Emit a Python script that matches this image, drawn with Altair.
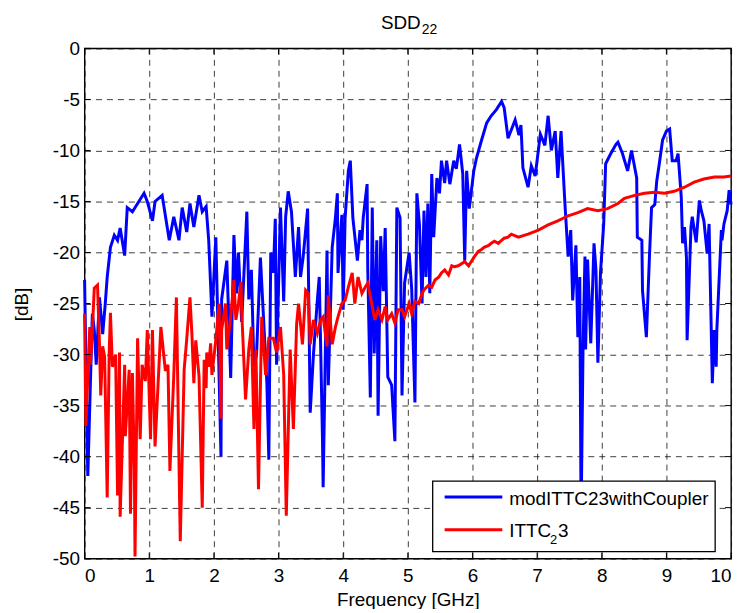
import altair as alt
import pandas as pd

# ---- data ----
BLUE_F = [0.00,0.05,0.12,0.15,0.18,0.23,0.28,0.32,0.35,0.40,
          0.46,0.51,0.55,0.62,0.66,0.74,0.82,0.92,0.97,1.05,
          1.09,1.20,1.31,1.38,1.46,1.51,1.58,1.63,1.69,1.77,
          1.82,1.88,1.92,1.97,2.03,2.11,2.12,2.20,2.26,2.31,
          2.35,2.38,2.43,2.51,2.54,2.58,2.62,2.66,2.72,2.77,
          2.82,2.85,2.88,2.92,2.95,2.97,3.03,3.08,3.11,3.15,
          3.20,3.26,3.31,3.34,3.38,3.45,3.49,3.54,3.60,3.63,
          3.68,3.69,3.75,3.77,3.83,3.88,3.91,3.92,3.98,4.00,
          4.03,4.08,4.11,4.15,4.22,4.26,4.29,4.31,4.37,4.38,
          4.42,4.45,4.48,4.52,4.54,4.58,4.62,4.65,4.69,4.75,
          4.80,4.83,4.88,4.91,4.95,5.02,5.06,5.11,5.14,5.18,
          5.22,5.25,5.28,5.31,5.34,5.37,5.40,5.45,5.49,5.52,
          5.57,5.60,5.65,5.71,5.75,5.80,5.85,5.88,5.91,5.95,
          6.02,6.06,6.14,6.22,6.29,6.37,6.45,6.49,6.55,6.60,
          6.66,6.72,6.75,6.78,6.86,6.91,6.97,7.05,7.12,7.17,
          7.22,7.28,7.32,7.37,7.43,7.48,7.52,7.55,7.60,7.63,
          7.66,7.68,7.71,7.74,7.75,7.78,7.83,7.88,7.91,7.94,
          7.98,8.03,8.06,8.14,8.22,8.25,8.32,8.40,8.46,8.54,
          8.55,8.62,8.63,8.69,8.74,8.77,8.82,8.85,8.89,8.94,
          9.00,9.05,9.09,9.15,9.18,9.23,9.25,9.28,9.31,9.32,
          9.38,9.40,9.46,9.51,9.54,9.58,9.63,9.66,9.71,9.74,
          9.77,9.78,9.85,9.86,9.89,9.94,9.97,10.0]
BLUE_DB = [-22.7,-41.9,-26,-27.6,-31,-24.4,-28,-25,-22.4,-19.5,
           -18.3,-18.8,-17.6,-20.3,-15.6,-16,-15.2,-14.2,-15,-16.9,
           -15,-14.4,-18.8,-16.5,-18.8,-15.6,-18,-15.2,-17.5,-14.4,
           -16,-15.5,-18.8,-26.3,-18.5,-40,-24.6,-20.8,-32.3,-18.3,
           -24,-20,-26.8,-16,-24.6,-21.7,-31.2,-30,-20.5,-26.7,
           -32.8,-40.3,-20,-22,-16.7,-31,-15.6,-24.8,-16.5,-14,
           -16,-22.4,-17.5,-22.4,-20.5,-15.7,-35.7,-30,-24.7,-22.4,
           -38.3,-43,-19.8,-33,-19.5,-16.6,-14.2,-22,-16.3,-25.6,
           -16.6,-12,-11,-16.6,-20.8,-17.8,-18.8,-16.6,-13.3,-21.5,
           -34.2,-15.6,-29.9,-18.8,-36,-18.4,-23.8,-17.6,-32.2,-33,
           -38.5,-15.6,-16.6,-34,-23,-20,-23.6,-34.7,-14.2,-17.3,
           -25,-15.9,-22.4,-15.2,-24,-12.3,-18.5,-12.7,-14.2,-11,
           -13.2,-11,-13.3,-11,-11.8,-9.4,-12.3,-20.8,-12,-15.7,
           -12,-10.8,-9,-7.3,-6.6,-6,-5.2,-5.8,-8.8,-8,
           -7,-8.5,-7.5,-11.7,-13.6,-11.5,-12.5,-8.4,-9.5,-6.6,
           -10,-8.1,-12.7,-8.1,-15.2,-20.4,-17.8,-24.7,-19.3,-28.3,
           -22.4,-46,-29.5,-20.4,-29.5,-20.7,-28.9,-19.1,-21.7,-30.8,
           -22,-17.2,-11.3,-10.3,-9.4,-9.2,-10.3,-12,-10,-12.7,
           -18.5,-18.8,-23.7,-28.3,-20,-15.6,-15.3,-13,-11.3,-9,
           -8.1,-7.9,-11,-11,-10.3,-14.6,-19.1,-17.5,-20.5,-28.6,
           -17.5,-16.5,-19,-14.9,-15.9,-16.9,-20.1,-17.2,-32.8,-27.6,
           -31.2,-27.6,-17.8,-18.8,-17.2,-15.9,-13.9,-15.3]

RED_F = [0.00,0.02,0.08,0.09,0.12,0.15,0.20,0.23,0.25,0.28,
         0.31,0.35,0.38,0.40,0.43,0.48,0.51,0.54,0.55,0.62,
         0.63,0.69,0.71,0.74,0.77,0.78,0.82,0.86,0.89,0.94,
         0.97,1.02,1.05,1.09,1.15,1.18,1.25,1.29,1.32,1.38,
         1.42,1.48,1.54,1.58,1.63,1.66,1.69,1.72,1.77,1.82,
         1.85,1.88,1.89,1.92,1.95,1.97,2.03,2.08,2.11,2.12,
         2.18,2.20,2.26,2.31,2.34,2.38,2.42,2.43,2.49,2.54,
         2.58,2.62,2.65,2.69,2.74,2.80,2.85,2.92,2.97,3.03,
         3.08,3.12,3.18,3.23,3.28,3.31,3.37,3.42,3.46,3.49,
         3.54,3.60,3.65,3.69,3.75,3.77,3.83,3.88,3.92,3.98,
         4.03,4.08,4.14,4.18,4.23,4.29,4.34,4.38,4.45,4.49,
         4.54,4.60,4.65,4.69,4.75,4.80,4.85,4.91,4.95,5.02,
         5.06,5.11,5.17,5.22,5.26,5.32,5.37,5.42,5.48,5.52,
         5.57,5.63,5.68,5.72,5.78,5.83,5.88,5.94,5.98,6.03,
         6.09,6.14,6.18,6.25,6.29,6.34,6.40,6.45,6.49,6.55,
         6.60,6.71,6.86,7.02,7.17,7.32,7.48,7.63,7.78,7.94,
         8.09,8.25,8.35,8.51,8.66,8.82,8.97,9.12,9.28,9.43,
         9.58,9.74,9.89,10.0]
RED_DB = [-26,-37,-27.3,-31,-27.6,-23.5,-23.2,-28.9,-34,-29.2,
          -30.2,-44,-30,-25.9,-31.2,-30,-43.8,-29.8,-45.9,-31,
          -38,-31.5,-45.6,-31.8,-41.2,-49.8,-28.4,-38.3,-31,-32.6,
          -27.6,-38.3,-27.6,-39,-31.2,-27.3,-31.6,-31,-41.4,-32,
          -24.4,-48.3,-31.5,-28.5,-24.4,-28,-32.8,-28.6,-32.1,-45,
          -30.5,-33.3,-29.8,-31.2,-28.9,-32,-28.6,-25,-36.3,-27.6,
          -25,-29.5,-26.3,-22.7,-26.6,-25,-22.9,-25.7,-34.4,-29.5,
          -27.3,-37.3,-29.5,-43.2,-26.3,-32,-28.4,-28.4,-29.8,-27.3,
          -32,-45.8,-29.5,-37.3,-27,-25,-29,-23.7,-24,-29,
          -26.6,-27.9,-26.6,-26.3,-29.2,-24.2,-29,-27.3,-26.3,-25,
          -24.7,-23.4,-22,-25,-22.4,-24,-23.4,-23,-25.3,-26.6,
          -25.6,-26.6,-25.3,-26.6,-26,-26.9,-25.6,-25.6,-26.3,-25,
          -26,-24.8,-25,-24,-23.6,-23.2,-23.4,-22.7,-22.4,-22,
          -21.7,-22.2,-21.3,-21.4,-21.3,-21.1,-20.9,-21.3,-20.9,-20.4,
          -19.9,-19.7,-19.5,-19.3,-19.1,-18.9,-19.1,-18.8,-18.6,-18.5,
          -18.2,-18.5,-18.2,-17.8,-17.3,-16.9,-16.4,-16.1,-15.7,-15.9,
          -15.7,-15.2,-14.7,-14.4,-14.2,-14.1,-14.2,-14,-13.6,-13.1,
          -12.8,-12.6,-12.6,-12.5]

X_TICKS = [0, 1, 2, 3, 4, 5, 6, 7, 8, 9, 10]
Y_TICKS = [0, -5, -10, -15, -20, -25, -30, -35, -40, -45, -50]

SERIES_NAMES = ["modITTC23withCoupler", "ITTC"]
TITLE_MAIN, TITLE_SUB = "SDD", "22"
X_TITLE, Y_TITLE = "Frequency [GHz]", "[dB]"

FONT = "Liberation Sans"
W, H = 650, 513
BLUE, RED = "#0000FF", "#FF0000"
LW = 3

xs = alt.Scale(domain=[0, 10], nice=False, zero=False)
ys = alt.Scale(domain=[-50, 0], nice=False, zero=False)

X_AXIS = alt.Axis(values=X_TICKS, title=X_TITLE, grid=True, ticks=False, domain=False,
                  labelPadding=8, titleY=47, titleBaseline="alphabetic")
Y_AXIS = alt.Axis(values=Y_TICKS, title=Y_TITLE, grid=True, ticks=False, domain=False,
                  labelPadding=5, labelExpr="'' + datum.value",
                  titleX=-63, titleY=257, titleAngle=270, titleBaseline="middle",
                  titleAlign="center")

blue_df = pd.DataFrame({"f": BLUE_F, "v": BLUE_DB})
red_df = pd.DataFrame({"f": RED_F, "v": RED_DB})
xt_df = pd.DataFrame({"f": X_TICKS})
yt_df = pd.DataFrame({"v": Y_TICKS})
one = pd.DataFrame({"a": [0]})

blue = alt.Chart(blue_df).mark_line(color=BLUE, strokeWidth=LW).encode(
    x=alt.X("f:Q", scale=xs, axis=X_AXIS),
    y=alt.Y("v:Q", scale=ys, axis=Y_AXIS),
)
red = alt.Chart(red_df).mark_line(color=RED, strokeWidth=LW).encode(
    x=alt.X("f:Q", scale=xs, axis=X_AXIS),
    y=alt.Y("v:Q", scale=ys, axis=Y_AXIS),
)

tick_len = 6
xt_bot = alt.Chart(xt_df).mark_rule(color="black", strokeWidth=1).encode(
    x=alt.X("f:Q", scale=xs, axis=X_AXIS), y=alt.value(H), y2=alt.value(H - tick_len))
xt_top = alt.Chart(xt_df).mark_rule(color="black", strokeWidth=1).encode(
    x=alt.X("f:Q", scale=xs, axis=X_AXIS), y=alt.value(0), y2=alt.value(tick_len))
yt_left = alt.Chart(yt_df).mark_rule(color="black", strokeWidth=1).encode(
    y=alt.Y("v:Q", scale=ys, axis=Y_AXIS), x=alt.value(0), x2=alt.value(tick_len))
yt_right = alt.Chart(yt_df).mark_rule(color="black", strokeWidth=1).encode(
    y=alt.Y("v:Q", scale=ys, axis=Y_AXIS), x=alt.value(W), x2=alt.value(W - tick_len))

# legend
leg_box = alt.Chart(one).mark_rect(fill="white", stroke="black", strokeWidth=1.3).encode(
    x=alt.value(350), x2=alt.value(634), y=alt.value(435), y2=alt.value(506))
leg_blue = alt.Chart(one).mark_rule(color=BLUE, strokeWidth=LW).encode(
    x=alt.value(362), x2=alt.value(420), y=alt.value(451))
leg_red = alt.Chart(one).mark_rule(color=RED, strokeWidth=LW).encode(
    x=alt.value(362), x2=alt.value(420), y=alt.value(484))
leg_t1 = alt.Chart(one).mark_text(text=SERIES_NAMES[0], align="left", baseline="alphabetic",
                                  font=FONT, fontSize=19, color="black").encode(
    x=alt.value(427), y=alt.value(459))
leg_t2 = alt.Chart(one).mark_text(text=SERIES_NAMES[1], align="left", baseline="alphabetic",
                                  font=FONT, fontSize=19, color="black").encode(
    x=alt.value(427), y=alt.value(491))
leg_t2s = alt.Chart(one).mark_text(text="2", align="left", baseline="alphabetic",
                                   font=FONT, fontSize=13, color="black").encode(
    x=alt.value(468), y=alt.value(498))
leg_t2e = alt.Chart(one).mark_text(text="3", align="left", baseline="alphabetic",
                                   font=FONT, fontSize=19, color="black").encode(
    x=alt.value(476), y=alt.value(491))

# title
title_main = alt.Chart(one).mark_text(text=TITLE_MAIN, align="right", baseline="alphabetic",
                                      font=FONT, fontSize=19, color="black").encode(
    x=alt.value(338), y=alt.value(-20))
title_sub = alt.Chart(one).mark_text(text=TITLE_SUB, align="left", baseline="alphabetic",
                                     font=FONT, fontSize=14, color="black").encode(
    x=alt.value(339), y=alt.value(-14))

chart = alt.layer(
    blue, red, xt_bot, xt_top, yt_left, yt_right,
    leg_box, leg_blue, leg_red, leg_t1, leg_t2, leg_t2s, leg_t2e,
    title_main, title_sub,
).properties(
    width=W, height=H,
    autosize=alt.AutoSizeParams(type="none"),
    padding={"left": 77, "top": 39, "right": 12, "bottom": 49},
    background="white",
).configure_view(
    stroke="black", strokeWidth=1.4,
).configure_axis(
    gridColor="#111111", gridDash=[6, 5], gridOpacity=0.9, gridWidth=0.9,
    labelColor="black", titleColor="black", labelFont=FONT, titleFont=FONT,
    labelFontSize=19, titleFontSize=19, titleFontWeight="normal",
)

chart.save("out.html", embed_options={"renderer": "svg", "actions": False})
